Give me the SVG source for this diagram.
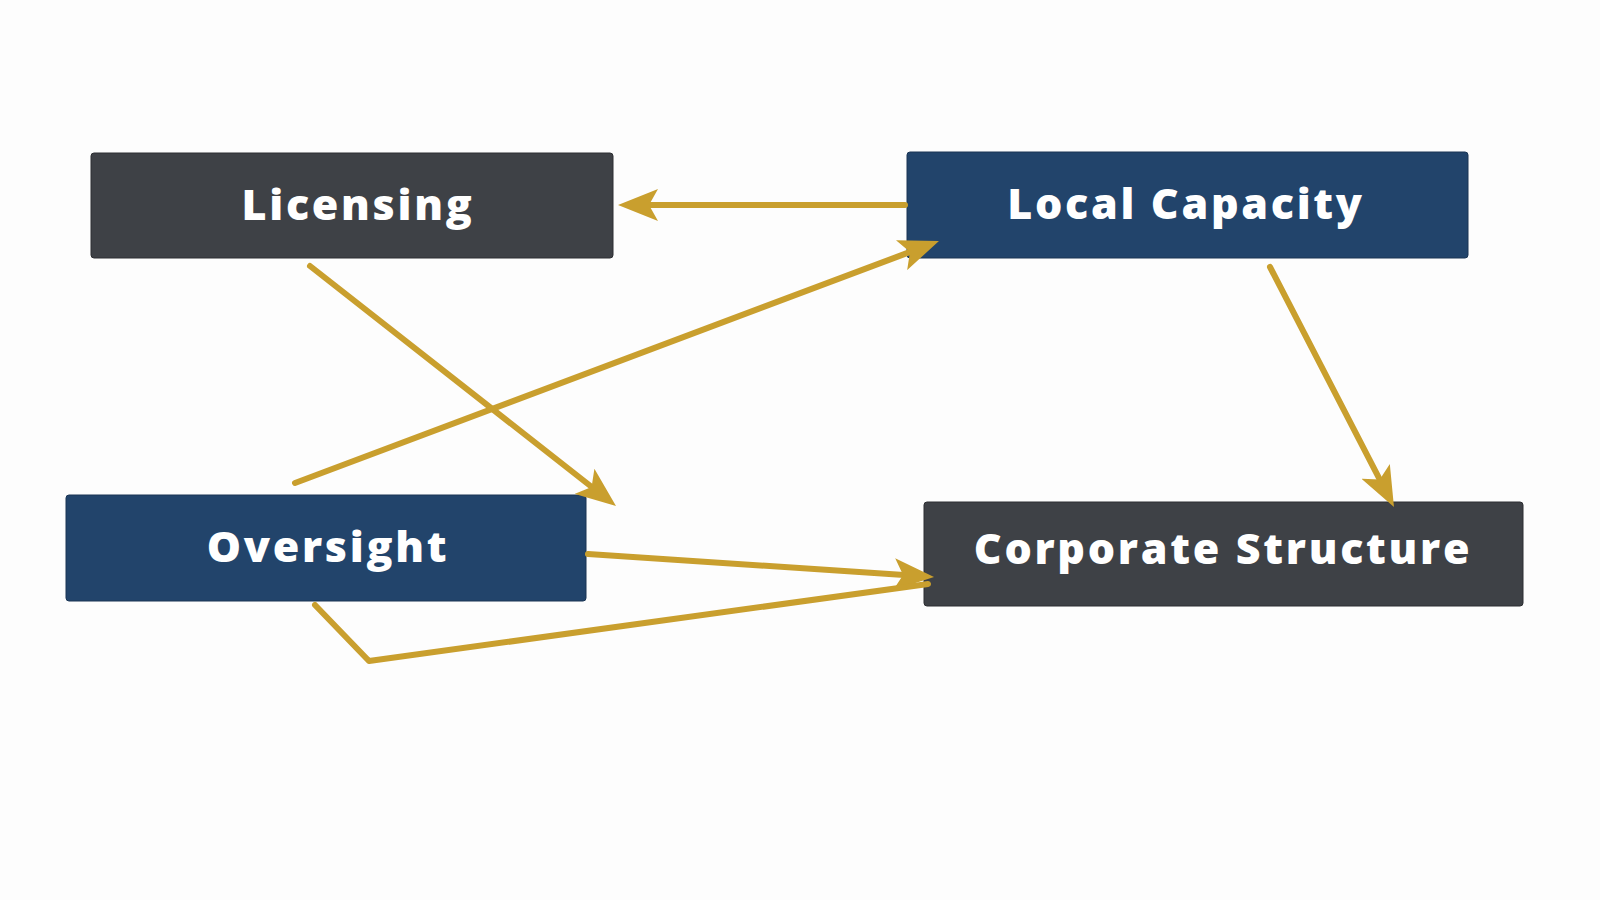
<svg xmlns="http://www.w3.org/2000/svg" width="1600" height="900" viewBox="0 0 1600 900">
<defs>
<marker id="ah" markerUnits="userSpaceOnUse" markerWidth="40" markerHeight="32" viewBox="0 0 40 32" refX="10" refY="16" orient="auto">
<path d="M0,0 L40,16 L0,32 L9,16 z" fill="#C99F2E"/>
</marker>
<style>
.node-dark{fill:#3E4146;stroke:#2c2e32;stroke-width:1}
.node-blue{fill:#22446B;stroke:#1a3555;stroke-width:1}
.lbl{font-family:"Open Sans","Liberation Sans",sans-serif;font-weight:800;font-size:43px;letter-spacing:2.7px;fill:#ffffff;text-anchor:middle}
.edge{fill:none;stroke:#C99F2E;stroke-width:6;stroke-linecap:round;stroke-linejoin:round}
</style>
</defs>
<rect x="0" y="0" width="1600" height="900" fill="#fdfdfd"/>
<g id="node-licensing">
<rect class="node-dark" x="91" y="153" width="522" height="105" rx="3"/>
<text class="lbl" x="358" y="220">Licensing</text>
</g>
<g id="node-local-capacity">
<rect class="node-blue" x="907" y="152" width="561" height="106" rx="3"/>
<text class="lbl" x="1186" y="219">Local Capacity</text>
</g>
<g id="node-oversight">
<rect class="node-blue" x="66" y="495" width="520" height="106" rx="3"/>
<text class="lbl" x="328" y="562">Oversight</text>
</g>
<g id="node-corporate-structure">
<rect class="node-dark" x="924" y="502" width="599" height="104" rx="3"/>
<text class="lbl" x="1223" y="564">Corporate Structure</text>
</g>
<g id="connectors">
<line class="edge" x1="905" y1="205" x2="648" y2="205" marker-end="url(#ah)"/>
<line class="edge" x1="310" y1="266" x2="592.4" y2="487.5" marker-end="url(#ah)"/>
<line class="edge" x1="295" y1="483" x2="910.9" y2="251.6" marker-end="url(#ah)"/>
<line class="edge" x1="1270" y1="267" x2="1380.2" y2="480.3" marker-end="url(#ah)"/>
<line class="edge" x1="588" y1="554" x2="904.1" y2="575" marker-end="url(#ah)"/>
<polyline class="edge" points="315,605 369,661 928,584"/>
</g>
</svg>
